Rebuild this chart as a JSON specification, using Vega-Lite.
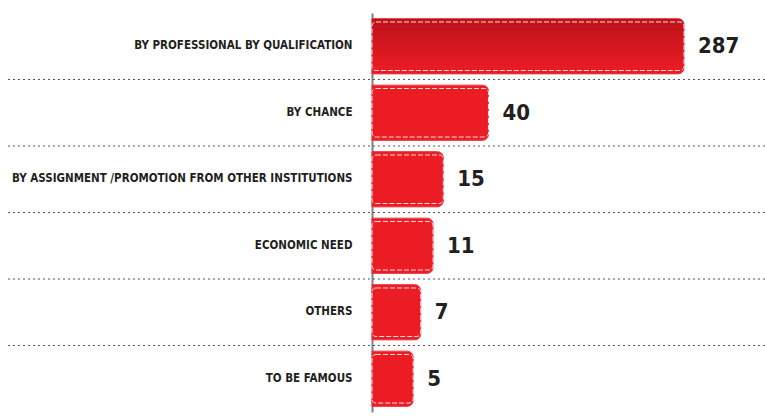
{
  "$schema": "https://vega.github.io/schema/vega-lite/v6.json",
  "width": 757,
  "height": 399,
  "autosize": "none",
  "padding": {"left": 8, "top": 13, "right": 0, "bottom": 5},
  "background": "white",
  "config": {"view": {"stroke": null}},
  "data": {
    "values": [
      {"reason": "BY PROFESSIONAL BY QUALIFICATION", "n": 287},
      {"reason": "BY CHANCE", "n": 40},
      {"reason": "BY ASSIGNMENT /PROMOTION FROM OTHER INSTITUTIONS", "n": 15},
      {"reason": "ECONOMIC NEED", "n": 11},
      {"reason": "OTHERS", "n": 7},
      {"reason": "TO BE FAMOUS", "n": 5}
    ]
  },
  "encoding": {
    "y": {
      "field": "reason",
      "type": "nominal",
      "sort": null,
      "scale": {"paddingInner": 0, "paddingOuter": 0},
      "axis": {
        "title": null,
        "offset": -364,
        "ticks": false,
        "domain": true,
        "domainColor": "#808080",
        "domainWidth": 2,
        "labelFont": "DejaVu Sans Condensed",
        "labelFontWeight": "bold",
        "labelFontSize": 11.5,
        "labelColor": "#231f20",
        "labelPadding": 20,
        "labelLimit": 0
      }
    }
  },
  "layer": [
    {
      "transform": [{"filter": "datum.reason != 'TO BE FAMOUS'"}],
      "mark": {"type": "rule", "color": "#555555", "strokeWidth": 1, "strokeDash": [2, 3]},
      "encoding": {
        "y": {"field": "reason", "type": "nominal", "sort": null, "bandPosition": 1}
      }
    },
    {
      "mark": {"type": "bar", "color": "#ec1c24", "cornerRadiusEnd": 6, "height": {"band": 0.83}, "stroke": "#e8303a", "strokeWidth": 1},
      "encoding": {
        "x": {"field": "n", "type": "quantitative", "scale": {"type": "sqrt", "domain": [0, 287], "range": [364, 683], "zero": true}, "axis": null}
      }
    },
    {
      "transform": [{"filter": "datum.n == 287"}],
      "mark": {
        "type": "bar",
        "cornerRadiusEnd": 6,
        "height": {"band": 0.83},
        "fill": {"gradient": "linear", "x1": 0, "y1": 0, "x2": 0, "y2": 1, "stops": [{"offset": 0, "color": "#bd121a"}, {"offset": 1, "color": "#ec1c24"}]}
      },
      "encoding": {
        "x": {"field": "n", "type": "quantitative"}
      }
    },
    {
      "mark": {"type": "bar", "fill": null, "fillOpacity": 0, "stroke": "white", "strokeWidth": 1, "strokeDash": [5, 2], "strokeOpacity": 0.85, "cornerRadiusEnd": 4, "height": {"band": 0.73}},
      "encoding": {
        "x": {"field": "n", "type": "quantitative"},
        "x2": {"datum": 0}
      }
    },
    {
      "mark": {"type": "text", "align": "left", "baseline": "middle", "dx": 14, "font": "DejaVu Sans Condensed", "fontWeight": "bold", "fontSize": 22, "color": "#231f20"},
      "encoding": {
        "x": {"field": "n", "type": "quantitative"},
        "text": {"field": "n", "type": "quantitative"}
      }
    }
  ]
}
